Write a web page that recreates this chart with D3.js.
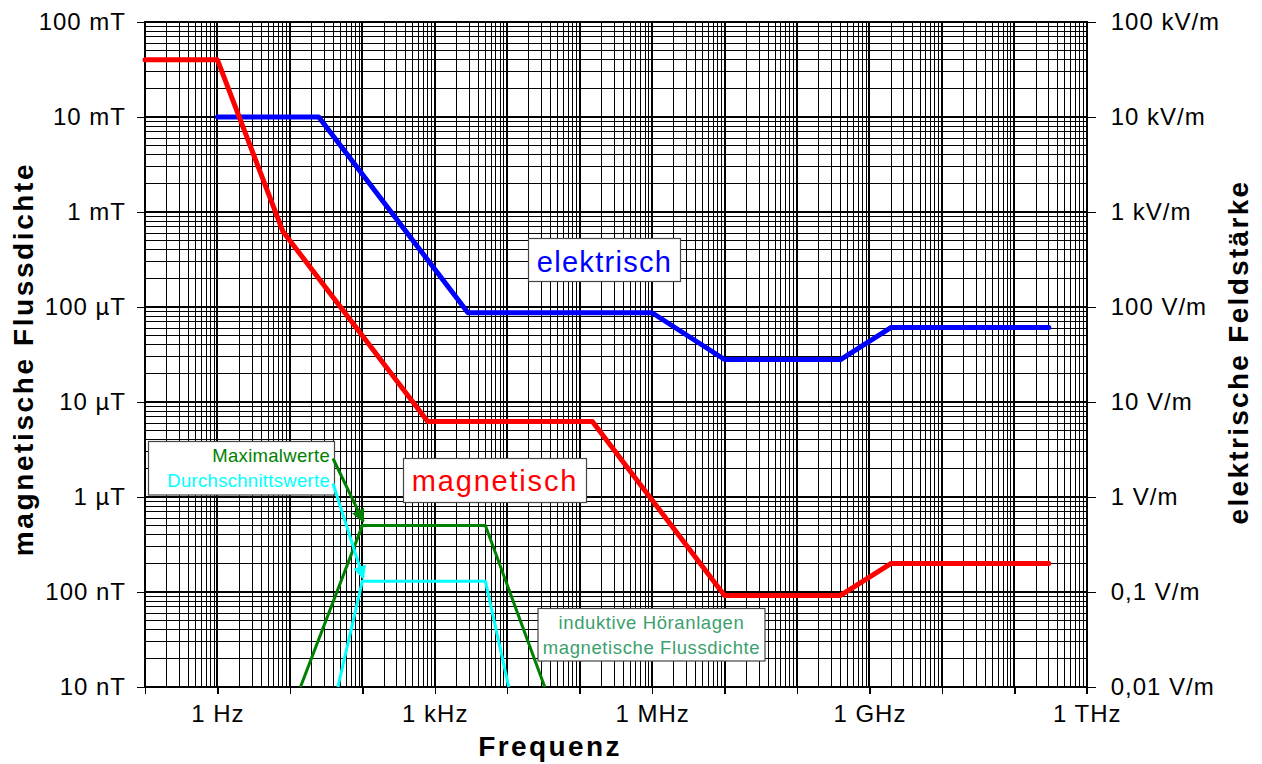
<!DOCTYPE html>
<html><head><meta charset="utf-8">
<script src="https://cdn.jsdelivr.net/npm/d3@7"></script>
<style>
body{margin:0;background:#fff}
svg{display:block}
text{font-family:"Liberation Sans",Arial,Helvetica,sans-serif}
</style>
</head><body>
<svg id="chart" width="1262" height="764"></svg>
<script>
// ---- data ----
const freqTicks = [1, 1e3, 1e6, 1e9, 1e12];
const freqTickLabels = ["1 Hz", "1 kHz", "1 MHz", "1 GHz", "1 THz"];
const bTicks = [1e-1, 1e-2, 1e-3, 1e-4, 1e-5, 1e-6, 1e-7, 1e-8];
const bTickLabels = ["100 mT", "10 mT", "1 mT", "100 µT", "10 µT", "1 µT", "100 nT", "10 nT"];
const eTicks = [1e5, 1e4, 1e3, 1e2, 1e1, 1, 1e-1, 1e-2];
const eTickLabels = ["100 kV/m", "10 kV/m", "1 kV/m", "100 V/m", "10 V/m", "1 V/m", "0,1 V/m", "0,01 V/m"];

// magnetic flux density limit (T)
const magFreq = [0.1, 1, 8, 800, 1.5e5, 1e7, 4e8, 2e9, 3e11];
const magB    = [0.04, 0.04, 6.25e-4, 6.25e-6, 6.25e-6, 9.2e-8, 9.2e-8, 2e-7, 2e-7];
// electric field strength limit (V/m)
const elFreq = [1, 25, 2874, 1e6, 1e7, 4e8, 2e9, 3e11];
const elE    = [1e4, 1e4, 87, 87, 28, 28, 61, 61];
// induktive Höranlagen: Maximalwerte (T)
const maxFreq = [14, 100, 5000, 33000];
const maxB    = [1e-8, 5e-7, 5e-7, 1e-8];
// induktive Höranlagen: Durchschnittswerte (T)
const avgFreq = [46, 100, 5000, 10500];
const avgB    = [1e-8, 1.3e-7, 1.3e-7, 1e-8];

// ---- layout ----
const L = 145, R = 1086.7, T = 22, B = 687;
const svg = d3.select("#chart");

const x = d3.scaleLog().domain([0.1, 1e12]).range([L, R]);
const yB = d3.scaleLog().domain([1e-8, 1e-1]).range([B, T]);
const yE = d3.scaleLog().domain([1e-2, 1e5]).range([B, T]);

// ---- grid ----
const grid = svg.append("g").attr("shape-rendering", "crispEdges");
const xMinor = [], xMajor = [];
for (let d = -1; d < 12; d++) {
  for (let k = 1; k <= 9; k++) {
    const v = k * Math.pow(10, d);
    (k === 1 ? xMajor : xMinor).push(v);
  }
}
xMajor.push(1e12);
const yMinor = [], yMajor = [];
for (let d = -8; d < -1; d++) {
  for (let k = 1; k <= 9; k++) {
    const v = k * Math.pow(10, d);
    (k === 1 ? yMajor : yMinor).push(v);
  }
}
yMajor.push(1e-1);

grid.selectAll(".vmin").data(xMinor).join("line")
  .attr("x1", d => x(d)).attr("x2", d => x(d)).attr("y1", T).attr("y2", B)
  .attr("stroke", "#000").attr("stroke-width", 1);
grid.selectAll(".hmin").data(yMinor).join("line")
  .attr("x1", L).attr("x2", R).attr("y1", d => yB(d)).attr("y2", d => yB(d))
  .attr("stroke", "#000").attr("stroke-width", 1);
grid.selectAll(".vmaj").data(xMajor).join("line")
  .attr("x1", d => x(d)).attr("x2", d => x(d)).attr("y1", T).attr("y2", B)
  .attr("stroke", "#000").attr("stroke-width", 2);
grid.selectAll(".hmaj").data(yMajor).join("line")
  .attr("x1", L).attr("x2", R).attr("y1", d => yB(d)).attr("y2", d => yB(d))
  .attr("stroke", "#000").attr("stroke-width", 2);

svg.append("rect").attr("x", L).attr("y", T).attr("width", R - L).attr("height", B - T)
  .attr("fill", "none").attr("stroke", "#000").attr("stroke-width", 2).attr("shape-rendering", "crispEdges");

// ---- axes ----
const tickFont = g => g.selectAll("text").attr("font-size", 24).attr("letter-spacing", 1).attr("fill", "#000");
const left = svg.append("g").attr("transform", `translate(${L},0)`)
  .call(d3.axisLeft(yB).tickValues(bTicks).tickFormat((d, i) => bTickLabels[i]).tickSize(8).tickPadding(11));
const right = svg.append("g").attr("transform", `translate(${R},0)`)
  .call(d3.axisRight(yE).tickValues(eTicks).tickFormat((d, i) => eTickLabels[i]).tickSize(9).tickPadding(15));
const bottom = svg.append("g").attr("transform", `translate(0,${B})`)
  .call(d3.axisBottom(x).tickValues(xMajor).tickFormat(d => {
    const i = freqTicks.indexOf(d); return i >= 0 ? freqTickLabels[i] : "";
  }).tickSize(7).tickPadding(11));
[left, right, bottom].forEach(g => {
  g.select(".domain").remove();
  g.selectAll(".tick line").attr("stroke", "#000").attr("stroke-width", 1.5).attr("shape-rendering", "crispEdges");
  g.call(tickFont);
  g.attr("font-family", null);
});

// ---- series ----
const lineB = d3.line().x(d => x(d[0])).y(d => yB(d[1]));
const lineE = d3.line().x(d => x(d[0])).y(d => yE(d[1]));
const zip = (a, b) => a.map((v, i) => [v, b[i]]);

svg.append("path").datum(zip(maxFreq, maxB)).attr("d", lineB)
  .attr("fill", "none").attr("stroke", "#008000").attr("stroke-width", 3).attr("stroke-linejoin", "round");
svg.append("path").datum(zip(avgFreq, avgB)).attr("d", lineB)
  .attr("fill", "none").attr("stroke", "#00FFFF").attr("stroke-width", 3).attr("stroke-linejoin", "round");
svg.append("path").datum(zip(elFreq, elE)).attr("d", lineE)
  .attr("fill", "none").attr("stroke", "#0000FF").attr("stroke-width", 5).attr("stroke-linejoin", "round").attr("stroke-linecap", "round");
svg.append("path").datum(zip(magFreq, magB)).attr("d", lineB)
  .attr("fill", "none").attr("stroke", "#FF0000").attr("stroke-width", 5).attr("stroke-linejoin", "round").attr("stroke-linecap", "round");

// ---- annotation boxes ----
function box(x0, y0, x1, y1) {
  svg.append("rect").attr("x", x0).attr("y", y0).attr("width", x1 - x0).attr("height", y1 - y0)
    .attr("fill", "#fff").attr("stroke", "#444").attr("stroke-width", 1.2);
}
box(528.5, 238.5, 680.5, 281.5);
svg.append("text").attr("x", 604.5).attr("y", 271.5).attr("text-anchor", "middle")
  .attr("font-size", 29).attr("letter-spacing", 1.3).attr("fill", "#0000FF").text("elektrisch");

box(403.5, 458.5, 586.5, 502.5);
svg.append("text").attr("x", 495).attr("y", 490.5).attr("text-anchor", "middle")
  .attr("font-size", 29).attr("letter-spacing", 1.8).attr("fill", "#FF0000").text("magnetisch");

box(148.5, 441.5, 334.5, 495);
svg.append("text").attr("x", 330).attr("y", 461.5).attr("text-anchor", "end")
  .attr("font-size", 18.5).attr("letter-spacing", 0.3).attr("fill", "#008000").text("Maximalwerte");
svg.append("text").attr("x", 330).attr("y", 486.5).attr("text-anchor", "end")
  .attr("font-size", 18.5).attr("letter-spacing", 0.3).attr("fill", "#00FFFF").text("Durchschnittswerte");

box(538, 608.5, 765, 661);
svg.append("text").attr("x", 651.5).attr("y", 629).attr("text-anchor", "middle")
  .attr("font-size", 18.5).attr("letter-spacing", 0.6).attr("fill", "#3c9f6e").text("induktive Höranlagen");
svg.append("text").attr("x", 651.5).attr("y", 653.5).attr("text-anchor", "middle")
  .attr("font-size", 18.5).attr("letter-spacing", 0.6).attr("fill", "#3c9f6e").text("magnetische Flussdichte");

// ---- arrows ----
const defs = svg.append("defs");
[["ag", "#008000"], ["ac", "#00FFFF"]].forEach(([id, c]) => {
  defs.append("marker").attr("id", id).attr("viewBox", "0 0 10 10").attr("refX", 9).attr("refY", 5)
    .attr("markerWidth", 4.5).attr("markerHeight", 4.5).attr("orient", "auto")
    .append("path").attr("d", "M0,0L10,5L0,10z").attr("fill", c);
});
svg.append("line").attr("x1", 333).attr("y1", 458.5)
  .attr("x2", x(maxFreq[1]) + 1).attr("y2", yB(maxB[1]) - 4)
  .attr("stroke", "#008000").attr("stroke-width", 3).attr("marker-end", "url(#ag)");
svg.append("line").attr("x1", 333).attr("y1", 483.5)
  .attr("x2", x(avgFreq[1]) + 1).attr("y2", yB(avgB[1]) - 3)
  .attr("stroke", "#00FFFF").attr("stroke-width", 3).attr("marker-end", "url(#ac)");

// ---- axis titles ----
svg.append("text").attr("transform", "translate(33,359) rotate(-90)").attr("text-anchor", "middle")
  .attr("font-size", 28).attr("font-weight", "bold").attr("letter-spacing", 2.6).text("magnetische Flussdichte");
svg.append("text").attr("transform", "translate(1248,352) rotate(-90)").attr("text-anchor", "middle")
  .attr("font-size", 28).attr("font-weight", "bold").attr("letter-spacing", 2.3).text("elektrische Feldstärke");
svg.append("text").attr("x", 550).attr("y", 756).attr("text-anchor", "middle")
  .attr("font-size", 28).attr("font-weight", "bold").attr("letter-spacing", 2.4).text("Frequenz");
</script>
</body></html>
